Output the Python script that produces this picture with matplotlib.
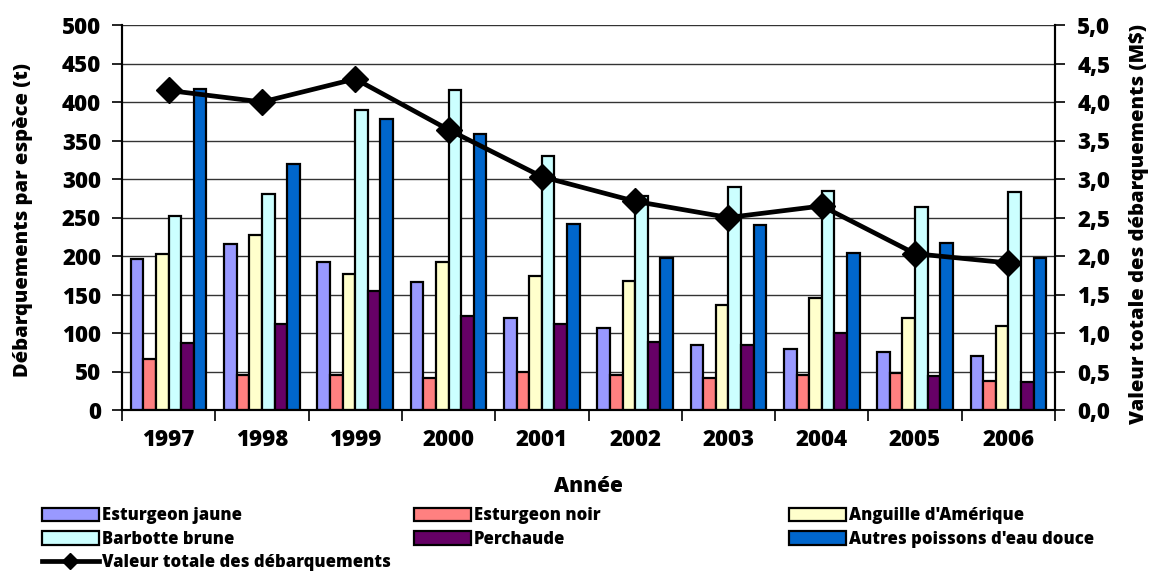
import matplotlib
matplotlib.use("Agg")
import matplotlib.pyplot as plt
from matplotlib.ticker import FuncFormatter, MultipleLocator, FixedLocator
from matplotlib.patches import Patch
from matplotlib.lines import Line2D
import numpy as np

plt.rcParams['font.family'] = ['Open Sans', 'DejaVu Sans']
plt.rcParams['font.weight'] = 'heavy'
W = 'heavy'

years = ['1997', '1998', '1999', '2000', '2001', '2002', '2003', '2004', '2005', '2006']
esturgeon_jaune = [196, 216, 192, 166, 120, 106, 84, 79, 75, 70]
esturgeon_noir = [66, 46, 46, 41, 50, 45, 42, 45, 48, 38]
anguille = [202, 227, 177, 192, 174, 168, 137, 145, 119, 109]
barbotte = [252, 281, 390, 415, 330, 278, 290, 284, 263, 283]
perchaude = [87, 112, 154, 122, 112, 88, 85, 100, 44, 37]
autres = [417, 320, 378, 358, 241, 198, 240, 204, 217, 198]
valeur = [4.15, 4.00, 4.30, 3.64, 3.03, 2.71, 2.50, 2.65, 2.03, 1.91]

series_names = ['Esturgeon jaune', 'Esturgeon noir', "Anguille d'Amérique",
                'Barbotte brune', 'Perchaude', "Autres poissons d'eau douce"]
series = [esturgeon_jaune, esturgeon_noir, anguille, barbotte, perchaude, autres]
colors = ['#9999FF', '#FF8080', '#FFFFCC', '#CCFFFF', '#660066', '#0066CC']
line_name = 'Valeur totale des débarquements'

fig = plt.figure(figsize=(11.54, 5.74), dpi=100)
L, R, B, T = 122/1154, 1055/1154, 1-410/574, 1-25/574
ax = fig.add_axes([L, B, R-L, T-B])
ax2 = ax.twinx()

n = len(years)
x = np.arange(n) + 0.5
w = 0.135
for k, (vals, c) in enumerate(zip(series, colors)):
    ax.bar(x + (k-2.5)*w, vals, width=w, color=c, edgecolor='black', linewidth=1.6, zorder=3)

ax.set_xlim(0, n)
ax.set_ylim(0, 500)
ax.yaxis.set_major_locator(MultipleLocator(50))
ax.grid(axis='y', color='#333333', linewidth=1.0, zorder=0)
ax.set_axisbelow(True)
ax.xaxis.set_major_locator(FixedLocator(np.arange(n+1)))
ax.xaxis.set_major_formatter(FuncFormatter(lambda v, p: ''))
ax.xaxis.set_minor_locator(FixedLocator(x))
ax.set_xticklabels(years, minor=True)
ax.tick_params(axis='x', which='major', length=8, width=1.2, direction='out')
ax.tick_params(axis='x', which='minor', length=0, pad=13, labelsize=16)
ax.tick_params(axis='y', length=7, width=1.2, direction='out', labelsize=16, pad=8)
ax.set_xlabel('Année', fontsize=15, fontweight=W)
ax.xaxis.set_label_coords(0.5, -(487 - 410) / 385)
ax.set_ylabel('Débarquements par espèce (t)', fontsize=14.5, fontweight=W)
ax.yaxis.set_label_coords(-(122 - 23) / 933, (410 - 220) / 385)
ax.xaxis.label.set_va('center')
ax.yaxis.label.set_va('center')
for lab in ax.get_xticklabels(minor=True) + ax.get_yticklabels():
    lab.set_fontweight(W)
for s in ['top']:
    ax.spines[s].set_visible(False)
    ax2.spines[s].set_visible(False)
for s in ['left', 'right', 'bottom']:
    ax.spines[s].set_linewidth(1.5)
    ax2.spines[s].set_linewidth(1.5)

ax2.plot(x, valeur, color='black', linewidth=3.4, marker='D', markersize=13, zorder=5)
ax2.set_ylim(0, 5)
ax2.yaxis.set_major_locator(MultipleLocator(0.5))
ax2.yaxis.set_major_formatter(FuncFormatter(lambda v, p: f"{v:.1f}".replace('.', ',')))
ax2.tick_params(axis='y', length=7, width=1.2, direction='out', labelsize=16, pad=9)
ax2.set_ylabel('Valeur totale des débarquements (M$)', fontsize=14.5, fontweight=W)
ax2.yaxis.set_label_coords((1139 - 122) / 933, (410 - 224) / 385)
ax2.yaxis.label.set_va('center')

handles = [Patch(facecolor=c, edgecolor='black', linewidth=1.6) for c in colors]
line_handle = Line2D([], [], color='black', linewidth=3.4, marker='D', markersize=8)

col_specs = [
    ([handles[0], handles[3], line_handle], [series_names[0], series_names[3], line_name], 42),
    ([handles[1], handles[4]], [series_names[1], series_names[4]], 414),
    ([handles[2], handles[5]], [series_names[2], series_names[5]], 789),
]
for hs, ls, px in col_specs:
    fig.legend(hs, ls, loc='upper left', bbox_to_anchor=(px/1154, 1-507/574),
               frameon=False, handlelength=3.4, handleheight=0.85,
               handletextpad=0.2, labelspacing=0.4, borderpad=0, borderaxespad=0,
               prop={'weight': W, 'size': 12, 'family': ['Open Sans', 'DejaVu Sans']})

fig.savefig('out.png', dpi=100)
